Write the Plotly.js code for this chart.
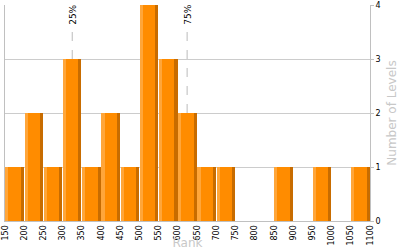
<!DOCTYPE html>
<html><head><meta charset="utf-8">
<script src="https://cdn.plot.ly/plotly-3.0.1.min.js"></script>
<style>html,body{margin:0;padding:0;background:#fff}#c{width:400px;height:250px}</style>
</head><body><div id="c"></div>
<script>
const binStarts = [150,200,250,300,350,400,450,500,550,600,650,700,750,800,850,900,950,1000,1050];
const counts    = [1,2,1,3,1,2,1,4,3,2,1,1,0,0,1,0,1,0,1];
const quartileValues = [325, 624];
const quartileLabels = ['25%', '75%'];
const xTicks = [150,200,250,300,350,400,450,500,550,600,650,700,750,800,850,900,950,1000,1050,1100];

const font = {family: 'DejaVu Sans, Tahoma, sans-serif', size: 8, color: '#000'};
function barTrace(color, width) {
  return {type:'bar', x: binStarts, y: counts, offset: 1, width: width,
    marker:{color: color, line:{width:0}}, hoverinfo:'none', showlegend:false};
}
const traces = [barTrace('#C86C00', 48), barTrace('#FF8C00', 40), barTrace('#FFA63A', 8)];

const shapes = quartileValues.map(v => ({type:'line', xref:'x', yref:'paper', x0:v, x1:v, y0:0, y1:0.895,
  line:{color:'#bbbbbb', width:1, dash:'dash'}, layer:'below'}));
const annotations = quartileValues.map((v,i) => ({x:v, xref:'x', y:0.9, yref:'paper', text: quartileLabels[i],
  textangle:-90, showarrow:false, xanchor:'center', yanchor:'bottom', font:{family:font.family, size:9, color:'#000'}}));

Plotly.newPlot('c', traces, {
  width:400, height:250, margin:{l:5, r:30, t:5, b:29},
  paper_bgcolor:'#fff', plot_bgcolor:'#fff', barmode:'overlay', bargap:0,
  font: font,
  xaxis:{range:[150,1100], tickvals:xTicks, ticktext:xTicks.map(String), tickangle:-90,
    showgrid:false, zeroline:false, showline:true, linecolor:'#c0c0c0', linewidth:1, mirror:false,
    ticks:'', tickfont:{family:font.family, size:8, color:'#000'},
    title:{text:'Rank', font:{family:font.family, size:12, color:'#c8c8c8'}, standoff:5}},
  yaxis:{side:'right', range:[0,4], dtick:1, showgrid:true, gridcolor:'#cccccc', zeroline:false,
    showline:true, linecolor:'#c0c0c0', linewidth:1, mirror:true, ticks:'outside', ticklen:3, tickcolor:'#c0c0c0',
    tickfont:{family:font.family, size:8, color:'#000'},
    title:{text:'Number of Levels', font:{family:font.family, size:12, color:'#c8c8c8'}, standoff:7}},
  shapes: shapes, annotations: annotations
}, {staticPlot:true});
</script></body></html>
